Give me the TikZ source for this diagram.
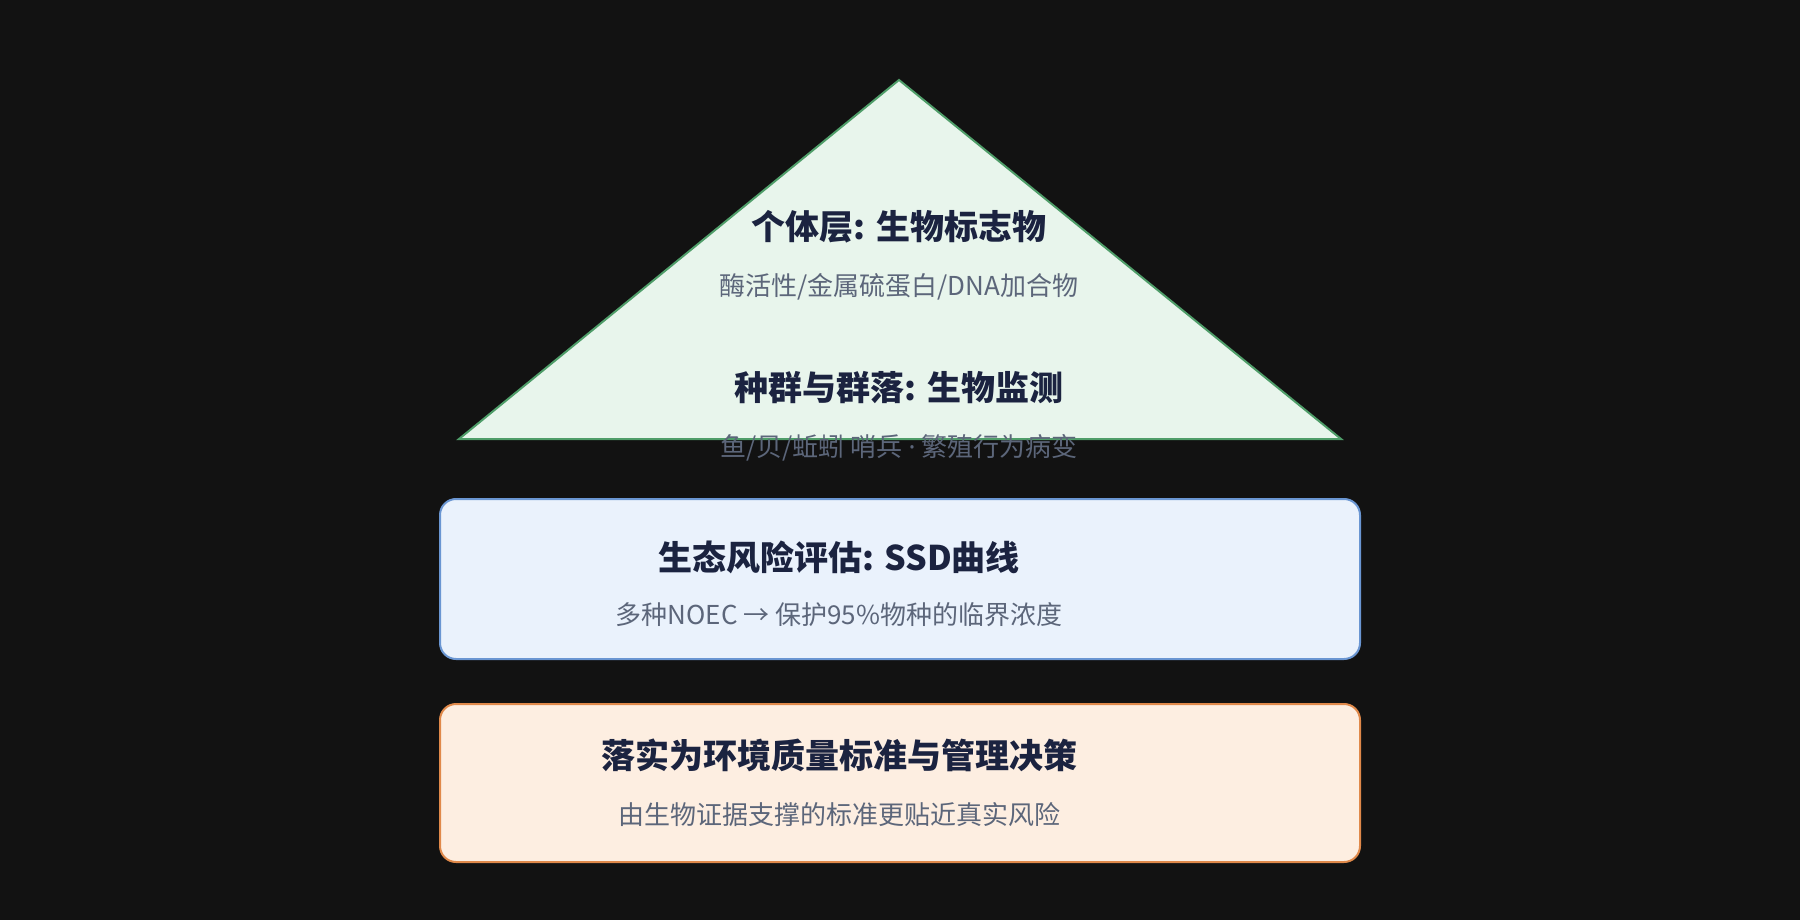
\documentclass[tikz,border=0pt]{standalone}
\usepackage{fontspec}
\setmainfont{Noto Sans CJK SC}
\newfontfamily\cjk{Noto Sans CJK SC}
\newfontfamily\latn{Noto Sans}
\definecolor{bg}{HTML}{121212}
\definecolor{trifill}{HTML}{E8F5EC}
\definecolor{tridraw}{HTML}{4F9D69}
\definecolor{bluefill}{HTML}{EAF2FC}
\definecolor{bluedraw}{HTML}{6A96D2}
\definecolor{orgfill}{HTML}{FDEEE1}
\definecolor{orgdraw}{HTML}{E0894A}
\definecolor{titlec}{HTML}{1B2340}
\definecolor{subc}{HTML}{5C667A}
\tikzset{
  ttl/.style={text=titlec, font=\cjk\bfseries\fontsize{34}{40}\selectfont, inner sep=0pt, anchor=center},
  sub/.style={text=subc, font=\cjk\fontsize{26}{32}\selectfont, inner sep=0pt, anchor=center},
  card/.style={rounded corners=16pt, line width=2pt}
}
\begin{document}
\begin{tikzpicture}[x=1pt,y=-1pt]
\fill[bg] (0,0) rectangle (1800,920);
\useasboundingbox (0,0) rectangle (1800,920);
% pyramid
\coordinate (apex) at (899,80);
\coordinate (bl) at (459,439);
\coordinate (br) at (1341,439);
\filldraw[fill=trifill, draw=tridraw, line width=2pt] (apex) -- (bl) -- (br) -- cycle;
\node[ttl] (t1) at (899,227) {个体层: 生物标志物};
\node[sub] (s1) at (899,287) {酶活性/金属硫蛋白/DNA加合物};
\node[ttl] (t2) at (899,388) {种群与群落: 生物监测};
\node[sub] (s2) at (899,448) {鱼/贝/蚯蚓 哨兵 {\latn·} 繁殖行为病变};
% boxes
\draw[card, fill=bluefill, draw=bluedraw] (440,499) rectangle (1360,659);
\node[ttl] (t3) at (839,557) {生态风险评估: SSD曲线};
\node[sub] (s3) at (839,615) {多种NOEC → 保护95\%物种的临界浓度};
\draw[card, fill=orgfill, draw=orgdraw] (440,704) rectangle (1360,862);
\node[ttl] (t4) at (839,755) {落实为环境质量标准与管理决策};
\node[sub] (s4) at (839,815) {由生物证据支撑的标准更贴近真实风险};
\end{tikzpicture}
\end{document}
